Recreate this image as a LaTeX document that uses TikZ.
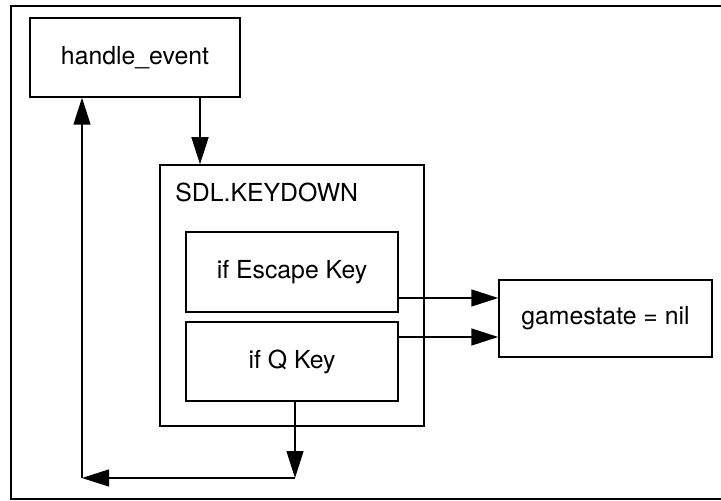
\documentclass[tikz,border=0pt]{standalone}
\usepackage{fontspec}
\setmainfont{TeX Gyre Heros}
\usetikzlibrary{arrows.meta}
\begin{document}
\begin{tikzpicture}[x=0.5pt,y=-0.5pt,
  box/.style={draw, line width=0.75pt, rectangle, inner sep=0pt, font=\fontsize{12.4}{15}\selectfont},
  lbl/.style={inner sep=0pt, anchor=west, font=\fontsize{12.4}{15}\selectfont},
  arr/.style={line width=0.75pt, -{Triangle[length=13.5pt,width=8.5pt]}}]
\useasboundingbox (0,0) rectangle (721,501);
\draw[line width=1pt] (740,6) -- (10.5,6) -- (10.5,499) -- (740,499);
\node[box, minimum width=105pt, minimum height=39.5pt] (handle) at (135,57.5) {handle\_event};
\node[box, minimum width=132pt, minimum height=130.5pt] (sdl) at (292,295.5) {};
\node[lbl] (sdllbl) at (175,192) {SDL.KEYDOWN};
\node[box, minimum width=106pt, minimum height=40pt] (esc) at (292,272) {if Escape Key};
\node[box, minimum width=106pt, minimum height=39.5pt] (q) at (292,361.5) {if Q Key};
\node[box, minimum width=106.5pt, minimum height=38.5pt] (game) at (605.5,318.5) {gamestate = nil};
\coordinate (x1) at (200,0);
\coordinate (y1) at (0,298);
\coordinate (y2) at (0,337);
\coordinate (c1) at (295,478);
\coordinate (c2) at (82,478);
\draw[arr] (handle.south -| x1) -- (sdl.north -| x1);
\draw[arr] (esc.east |- y1) -- (game.west |- y1);
\draw[arr] (q.east |- y2) -- (game.west |- y2);
\draw[arr] (q.south -| c1) -- (c1);
\draw[arr] (c1) -- (c2);
\draw[arr] (c2) -- (handle.south -| c2);
\end{tikzpicture}
\end{document}
